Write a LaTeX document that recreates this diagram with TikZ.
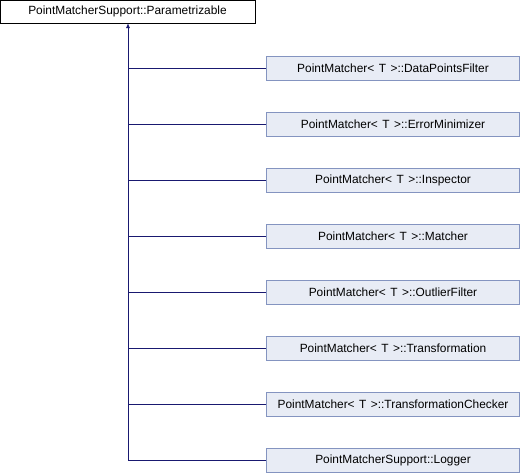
\documentclass[tikz,border=0pt]{standalone}
\usepackage{fontspec}
\setmainfont{Liberation Sans}
\usetikzlibrary{arrows.meta}
\definecolor{edgeblue}{HTML}{191970}
\definecolor{childfill}{HTML}{E8ECF5}
\definecolor{childdraw}{HTML}{8494C0}
\newcommand\childfont{\fontsize{11.9}{13}\selectfont\spaceskip=4.5pt\relax}
\begin{document}
\begin{tikzpicture}[x=1pt,y=-1pt,
  base/.style={draw=black,fill=white,minimum width=255pt,minimum height=23pt,inner sep=0pt,font=\fontsize{11.9}{13}\selectfont,anchor=center},
  child/.style={draw=childdraw,fill=childfill,minimum width=253pt,minimum height=24pt,inner sep=0pt,font=\childfont,anchor=center},
  edge/.style={draw=edgeblue,line width=0.9pt}]
\useasboundingbox (0,0) rectangle (522,472);
\node[base] (p) at (127.5,11.5) {PointMatcherSupport::Parametrizable};
\node[child] (c1) at (393,68) {PointMatcher< T >::DataPointsFilter};
\node[child] (c2) at (393,124) {PointMatcher< T >::ErrorMinimizer};
\node[child] (c3) at (393,180) {PointMatcher< T >::Inspector};
\node[child] (c4) at (393,236) {PointMatcher< T >::Matcher};
\node[child] (c5) at (393,292) {PointMatcher< T >::OutlierFilter};
\node[child] (c6) at (393,348) {PointMatcher< T >::Transformation};
\node[child] (c7) at (393,404) {PointMatcher< T >::TransformationChecker};
\node[child] (c8) at (393,460) {PointMatcherSupport::Logger};
\coordinate (top) at (128,23);
\coordinate (bot) at (128,460);
\draw[edge,-{Latex[length=5pt,width=4pt]}] (bot) -- (top);
\foreach \i in {1,...,8} {
  \draw[edge] (128,0 |- c\i.west) -- (c\i.west);
}
\end{tikzpicture}
\end{document}
